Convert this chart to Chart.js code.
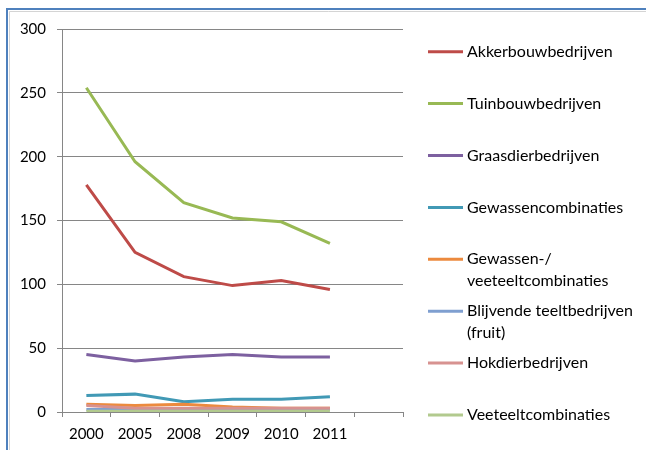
<!DOCTYPE html>
<html>
<head>
<meta charset="utf-8">
<script src="https://cdn.jsdelivr.net/npm/chart.js@4"></script>
<style>
  html, body { margin: 0; padding: 0; background: #fff; }
  #wrap { width: 646px; height: 450px; position: relative; }
</style>
</head>
<body>
<div id="wrap"><canvas id="c" width="646" height="450"></canvas></div>
<script>
// ---- data ----
const categories = ['2000', '2005', '2008', '2009', '2010', '2011', ''];
const seriesNames = [
  'Akkerbouwbedrijven',
  'Tuinbouwbedrijven',
  'Graasdierbedrijven',
  'Gewassencombinaties',
  ['Gewassen-/', 'veeteeltcombinaties'],
  ['Blijvende teeltbedrijven', '(fruit)'],
  'Hokdierbedrijven',
  'Veeteeltcombinaties'
];
const akkerbouw   = [178, 125, 106, 99, 103, 96];
const tuinbouw    = [254, 196, 164, 152, 149, 132];
const graasdier   = [45, 40, 43, 45, 43, 43];
const gewassen    = [13, 14, 8, 10, 10, 12];
const gewVeeteelt = [6, 5, 6, 4, 3, 3];
const blijvende   = [2, 2, 2, 2, 2, 2];
const hokdier     = [5, 3, 3, 3, 3, 3];
const veeteelt    = [0.5, 0.5, 0.5, 0.5, 0.5, 0.5];
const yTicks = [0, 50, 100, 150, 200, 250, 300];

const seriesValues = [akkerbouw, tuinbouw, graasdier, gewassen, gewVeeteelt, blijvende, hokdier, veeteelt];
const colors = ['#be4b48', '#98b954', '#7d60a0', '#4199b5', '#ec8a3e', '#7f9fd0', '#d79290', '#b2ca8e'];

const FONT = 'Lato, "Open Sans", sans-serif';

const datasets = seriesValues.map((vals, i) => ({
  label: Array.isArray(seriesNames[i]) ? seriesNames[i].join(' ') : seriesNames[i],
  data: vals,
  borderColor: colors[i],
  backgroundColor: colors[i],
  borderWidth: 3,
  pointRadius: 0,
  tension: 0,
  fill: false,
  order: seriesValues.length - 1 - i
}));

const frameAndLegend = {
  id: 'frameAndLegend',
  beforeDraw(chart) {
    const ctx = chart.ctx;
    ctx.save();
    ctx.fillStyle = '#fff';
    ctx.fillRect(0, 0, chart.width, chart.height);
    ctx.strokeStyle = '#d4d4d4';
    ctx.lineWidth = 1;
    ctx.beginPath();
    ctx.moveTo(9.5, chart.height + 5);
    ctx.lineTo(9.5, 11.5);
    ctx.lineTo(chart.width + 5, 11.5);
    ctx.stroke();
    ctx.strokeStyle = '#4f81bd';
    ctx.lineWidth = 2;
    ctx.beginPath();
    ctx.moveTo(7, chart.height + 5);
    ctx.lineTo(7, 9);
    ctx.lineTo(chart.width + 5, 9);
    ctx.stroke();
    ctx.restore();
  },
  afterDraw(chart) {
    const ctx = chart.ctx;
    ctx.save();
    const x0 = 428, x1 = 463, tx = 467;
    const yStart = 51.7, yStep = 51.9, lineH = 22;
    ctx.font = '16px ' + FONT;
    ctx.textBaseline = 'middle';
    ctx.textAlign = 'left';
    seriesNames.forEach((name, i) => {
      const y = yStart + i * yStep;
      ctx.strokeStyle = colors[i];
      ctx.lineWidth = 3;
      ctx.beginPath();
      ctx.moveTo(x0, y);
      ctx.lineTo(x1, y);
      ctx.stroke();
      ctx.fillStyle = '#000';
      const lines = Array.isArray(name) ? name : [name];
      lines.forEach((t, k) => ctx.fillText(t, tx, y + k * lineH));
    });
    ctx.restore();
  }
};

new Chart(document.getElementById('c'), {
  type: 'line',
  data: { labels: categories, datasets },
  options: {
    responsive: false,
    animation: false,
    devicePixelRatio: 1,
    layout: { padding: { left: 0, top: 29, right: 243, bottom: 0 } },
    plugins: { legend: { display: false }, tooltip: { enabled: false } },
    scales: {
      x: {
        offset: true,
        grid: { offset: true, drawOnChartArea: false, drawTicks: true, tickLength: 5, color: '#868686', lineWidth: 1 },
        border: { display: true, color: '#868686', width: 1 },
        ticks: { color: '#000', font: { family: FONT, size: 15 }, padding: 8, maxRotation: 0, autoSkip: false },
        afterFit(scale) { scale.height = 38; }
      },
      y: {
        min: 0, max: 300,
        afterBuildTicks(scale) { scale.ticks = yTicks.map(v => ({ value: v })); },
        grid: { color: '#868686', lineWidth: 1, tickLength: 5, drawTicks: true },
        border: { display: true, color: '#868686', width: 1 },
        ticks: { color: '#000', font: { family: FONT, size: 15 }, padding: 11 },
        afterFit(scale) { scale.width = 62; }
      }
    }
  },
  plugins: [frameAndLegend]
});
</script>
</body>
</html>
